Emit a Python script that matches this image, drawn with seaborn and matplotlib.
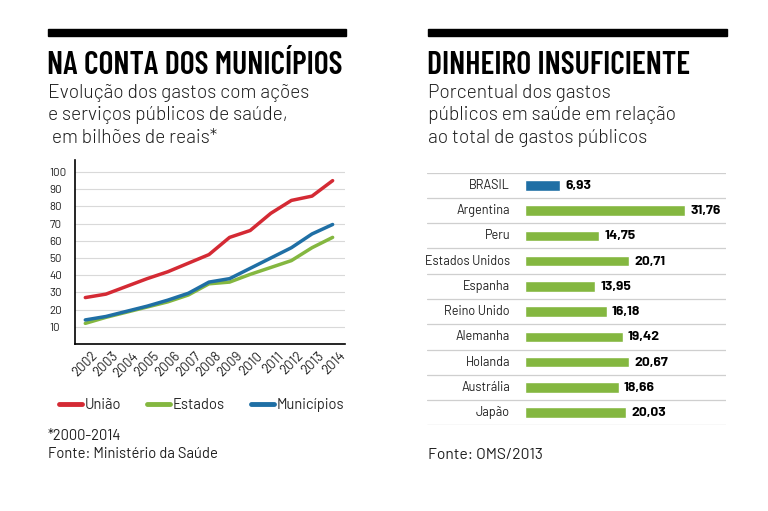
import matplotlib
matplotlib.use("Agg")
import matplotlib.pyplot as plt
import matplotlib.transforms as mtransforms
import seaborn as sns
import pandas as pd
from matplotlib.lines import Line2D

# ── Dados ─────────────────────────────────────────────────────────────
anos = list(range(2002, 2015))
uniao = [27, 29, 33.5, 38, 42, 47, 52, 62, 66, 76, 83.5, 86, 95]
estados = [12, 15.5, 18.5, 21.5, 24.5, 28.5, 35, 36, 40.5, 44.5, 48.5, 56, 62]
municipios = [14, 16, 19, 22, 25.5, 29.5, 36, 38, 44, 50, 56, 64, 69.5]
series_nomes = ["União", "Estados", "Municípios"]

paises = ["BRASIL", "Argentina", "Peru", "Estados Unidos", "Espanha",
          "Reino Unido", "Alemanha", "Holanda", "Austrália", "Japão"]
porcentual = [6.93, 31.76, 14.75, 20.71, 13.95, 16.18, 19.42, 20.67, 18.66, 20.03]

VERMELHO = "#d42a34"
VERDE = "#84b740"
AZUL = "#1f6fa5"
TEXTO = "#1e1e1e"

sns.set_theme(style="white")
plt.rcParams["font.family"] = ["Barlow", "DejaVu Sans"]

W, H = 768, 511
fig = plt.figure(figsize=(W / 100, H / 100), dpi=100)


def px(x, y):
    """Coordenadas em pixels (origem no topo) -> fração da figura."""
    return x / W, 1 - y / H


def faixa(x0, x1, y0, y1):
    fig.patches.append(plt.Rectangle(px(x0, y1), (x1 - x0) / W, (y1 - y0) / H,
                                     transform=fig.transFigure, color="black"))


TITULO = dict(family=["Barlow Condensed", "DejaVu Sans"], weight=600,
              fontsize=22.9, color="black", va="baseline")
SUB = dict(fontsize=13.9, color=TEXTO, va="baseline", weight=300)

# ── Cabeçalhos ────────────────────────────────────────────────────────
faixa(48, 346, 29, 36)
faixa(428, 727, 29, 36)
fig.text(*px(47, 73.5), "NA CONTA DOS MUNICÍPIOS", **TITULO)
fig.text(*px(427, 73.5), "DINHEIRO INSUFICIENTE", **TITULO)
for i, linha in enumerate(["Evolução dos gastos com ações",
                           "e serviços públicos de saúde,",
                           " em bilhões de reais*"]):
    fig.text(*px(48, 97.5 + i * 22.5), linha, **SUB)
for i, linha in enumerate(["Porcentual dos gastos",
                           "públicos em saúde em relação",
                           "ao total de gastos públicos"]):
    fig.text(*px(428, 97.5 + i * 22.5), linha, **SUB)

# ── Gráfico de linhas ─────────────────────────────────────────────────
df = pd.DataFrame({"ano": anos * 3,
                   "valor": uniao + estados + municipios,
                   "serie": sum([[n] * len(anos) for n in series_nomes], [])})

ax1 = fig.add_axes([75 / W, 1 - 344 / H, 270 / W, 184 / H])
sns.lineplot(data=df, x="ano", y="valor", hue="serie", hue_order=series_nomes,
             palette=[VERMELHO, VERDE, AZUL], linewidth=2.5, legend=False, ax=ax1)
ax1.set_xlim(2001.5, 2014.6)
ax1.set_ylim(0, 107)
ax1.set_yticks(range(10, 101, 10))
ax1.set_xticks(anos)
ax1.set_xticklabels([str(a) for a in anos], rotation=45, ha="right",
                    rotation_mode="anchor")
ax1.tick_params(axis="y", labelsize=8.3, colors=TEXTO, length=0)
ax1.tick_params(axis="x", labelsize=9.6, colors=TEXTO, length=0, pad=4)
desloc = mtransforms.ScaledTranslation(6 / 100, 0, fig.dpi_scale_trans)
for t in ax1.get_xticklabels():
    t.set_transform(t.get_transform() + desloc)
ax1.grid(axis="y", color="#d9d9d9", linewidth=0.8)
ax1.set_axisbelow(True)
ax1.set_xlabel("")
ax1.set_ylabel("")
for lado in ["top", "right"]:
    ax1.spines[lado].set_visible(False)
for lado in ["left", "bottom"]:
    ax1.spines[lado].set_color("black")
    ax1.spines[lado].set_linewidth(1.2)
# rótulos do eixo y alinhados à esquerda, como no original
for t in ax1.get_yticklabels():
    t.set_horizontalalignment("left")
    t.set_x(-0.095)
    t.set_transform(ax1.get_yaxis_transform())

handles = [Line2D([], [], color=c, linewidth=3.5, solid_capstyle="round")
           for c in [VERMELHO, VERDE, AZUL]]
fig.legend(handles, series_nomes, loc="center left", bbox_to_anchor=px(59, 405),
           ncol=3, frameon=False, fontsize=10.6, handlelength=1.55,
           handletextpad=0.2, columnspacing=1.75, borderaxespad=0, borderpad=0)

fig.text(*px(48, 440), "*2000-2014", fontsize=10.6, color=TEXTO, va="baseline")
fig.text(*px(48, 458), "Fonte: Ministério da Saúde", fontsize=10.6, color=TEXTO,
         va="baseline")

# ── Gráfico de barras ─────────────────────────────────────────────────
dfb = pd.DataFrame({"pais": paises, "valor": porcentual,
                    "grupo": ["Brasil"] + ["Outros"] * (len(paises) - 1)})
ax2 = fig.add_axes([427 / W, 1 - 425.3 / H, 299 / W, 252.6 / H])
sns.barplot(data=dfb, y="pais", x="valor", hue="grupo", palette=[AZUL, VERDE],
            order=paises, width=0.42, legend=False, saturation=1, ax=ax2)
escala = 5.04  # pixels por ponto percentual
ax2.set_xlim(-98 / escala, 201 / escala)
ax2.set_ylim(len(paises) - 0.5, -0.5)
ax2.axis("off")
for i in range(len(paises) + 1):
    ax2.axhline(i - 0.5, color="#cfcfcf", linewidth=0.9)
for i, (p, v) in enumerate(zip(paises, porcentual)):
    ax2.text(-15 / escala, i, p, ha="right", va="center", fontsize=9.1,
             color=TEXTO, weight=400)
    ax2.text(v + 5 / escala, i, f"{v:.2f}".replace(".", ","), ha="left",
             va="center", fontsize=10, weight=700, color="black")

fig.text(*px(428, 459), "Fonte: OMS/2013", fontsize=11.2, color=TEXTO,
         va="baseline")

fig.savefig("out.png", dpi=100)
